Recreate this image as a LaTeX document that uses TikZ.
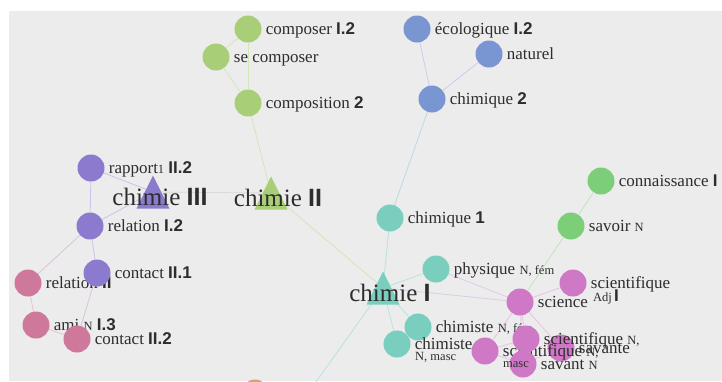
\documentclass[tikz,border=0pt]{standalone}
\usepackage{fontspec}
\setmainfont{Liberation Serif}
\setsansfont{Liberation Sans}
\usetikzlibrary{backgrounds, calc}
\definecolor{bggray}{RGB}{236,236,236}
\definecolor{txt}{RGB}{45,45,45}
\definecolor{cpurple}{RGB}{140,122,206}
\definecolor{cpink}{RGB}{206,120,156}
\definecolor{cleaf}{RGB}{168,206,120}
\definecolor{cblue}{RGB}{122,150,210}
\definecolor{cteal}{RGB}{122,206,190}
\definecolor{cmauve}{RGB}{206,120,198}
\definecolor{cgreen}{RGB}{125,206,120}
\definecolor{corange}{RGB}{214,162,110}

\newcommand{\lvl}[1]{{\sffamily\bfseries #1}}
\newcommand{\gr}[1]{{\fontsize{12.5}{13}\selectfont #1}}

\tikzset{
  word/.style={circle, fill=#1, minimum size=27pt, inner sep=0pt},
  lbl/.style={anchor=base west, xshift=4pt, yshift=-5pt, inner sep=0pt, text=txt,
    font=\fontsize{17}{18}\selectfont},
  sub/.style={anchor=base west, inner sep=0pt, text=txt, font=\fontsize{12.5}{13}\selectfont},
  hubtxt/.style={anchor=base, inner sep=0pt, text=txt, font=\fontsize{25}{28}\selectfont},
  lk/.style={line width=0.8pt, draw=#1},
}

\begin{document}
\begin{tikzpicture}[x=1pt, y=-1pt]
  \useasboundingbox (0,0) rectangle (722,381);

  % Hubs (triangles)
  \coordinate (chimieC) at (153,192);
  \coordinate (chimieB) at (271,193);
  \coordinate (chimieA) at (383,288);
  \coordinate (far) at (296,410);
  \foreach \h/\c in {chimieC/cpurple, chimieB/cleaf, chimieA/cteal}
    \fill[\c] ($(\h)+(0,-16.5)$) -- ($(\h)+(16.5,16.5)$) -- ($(\h)+(-16.5,16.5)$) -- cycle;

  % Words (circle + label)
  \foreach \n/\px/\py/\c/\lab in {
    rapport/91/168/cpurple/{rapport\gr{1} \lvl{II.2}},
    relation/90/226/cpurple/{relation \lvl{I.2}},
    relationB/28/283/cpink/{relation \lvl{II}},
    contactA/97/273/cpurple/{contact \lvl{II.1}},
    ami/36/325/cpink/{ami \gr{N} \lvl{I.3}},
    contactB/77/339/cpink/{contact \lvl{II.2}},
    composer/248/29/cleaf/{composer \lvl{I.2}},
    secomp/216/57/cleaf/{se composer},
    composition/248/103/cleaf/{composition \lvl{2}},
    ecolo/417/29/cblue/{écologique \lvl{I.2}},
    naturel/489/54/cblue/{naturel},
    chimiqueB/432/99/cblue/{chimique \lvl{2}},
    chimiqueA/390/218/cteal/{chimique \lvl{1}},
    physique/436/269/cteal/{physique \gr{N, fém}},
    chimisteF/418/327/cteal/{chimiste \gr{N, fém}},
    chimisteM/397/344/cteal/{chimiste},
    connaissance/601/181/cgreen/{connaissance \lvl{I}},
    savoir/571/226/cgreen/{savoir \gr{N}},
    sciadj/573/283/cmauve/{scientifique},
    science/520/302/cmauve/{science},
    savante/561/348/cmauve/{savante},
    scimasc/485/351/cmauve/{scientifique \gr{N,}},
    scifem/526/339/cmauve/{scientifique \gr{N,}},
    savant/523/364/cmauve/{savant \gr{N}}%
  }
    \node[word=\c, label={[lbl]east:\lab}] (\n) at (\px,\py) {};
  \node[word=corange] (autre) at (255,393) {};

  % second lines
  \node[sub] (chimisteM-b) at ($(chimisteM)+(18,16)$) {N, masc};
  \node[sub] (scimasc-b) at ($(scimasc)+(18,16)$) {masc};
  \node[sub] (sciadj-b) at ($(sciadj)+(20,18)$) {Adj\,\lvl{\fontsize{17}{18}\selectfont I}};

  % Hub labels
  \node[hubtxt] (tC) at ($(chimieC)+(7,13.5)$) {chimie \lvl{III}};
  \node[hubtxt] (tB) at ($(chimieB)+(7,13.5)$) {chimie \lvl{II}};
  \node[hubtxt] (tA) at ($(chimieA)+(7,13.5)$) {chimie \lvl{I}};

  \begin{scope}[on background layer]
    \fill[bggray] (9,11) rectangle (722,381);
    % links
    \foreach \a/\b in {rapport/relation, rapport/chimieC, relation/chimieC, relation/contactA}
      \draw[lk=cpurple!45] (\a) -- (\b);
    \foreach \a/\b in {relation/relationB, contactA/contactB}
      \draw[lk=cpink!50!cpurple!45!white] (\a) -- (\b);
    \foreach \a/\b in {relationB/ami, ami/contactB}
      \draw[lk=cpink!45] (\a) -- (\b);
    \draw[lk=gray!30] (chimieC) -- (chimieB);
    \foreach \a/\b in {composer/secomp, composer/composition, secomp/composition,
                       composition/chimieB, chimieB/chimieA}
      \draw[lk=cleaf!50] (\a) -- (\b);
    \foreach \a/\b in {ecolo/chimiqueB, naturel/chimiqueB}
      \draw[lk=cblue!45] (\a) -- (\b);
    \draw[lk=cteal!50!cblue!50!white] (chimiqueB) -- (chimiqueA);
    \foreach \a/\b in {chimiqueA/chimieA, chimieA/physique, chimieA/chimisteF,
                       chimieA/chimisteM, chimieA/far}
      \draw[lk=cteal!55] (\a) -- (\b);
    \foreach \a/\b in {chimieA/science, physique/science}
      \draw[lk=cpurple!30!cmauve!40!white] (\a) -- (\b);
    \foreach \a/\b in {science/sciadj, science/scifem, science/scimasc, science/savante,
                       science/savant, scimasc/scifem, scimasc/savant, scifem/savant,
                       savante/savant}
      \draw[lk=cmauve!45] (\a) -- (\b);
    \foreach \a/\b in {connaissance/savoir, savoir/science}
      \draw[lk=cgreen!50] (\a) -- (\b);
  \end{scope}
\end{tikzpicture}
\end{document}
